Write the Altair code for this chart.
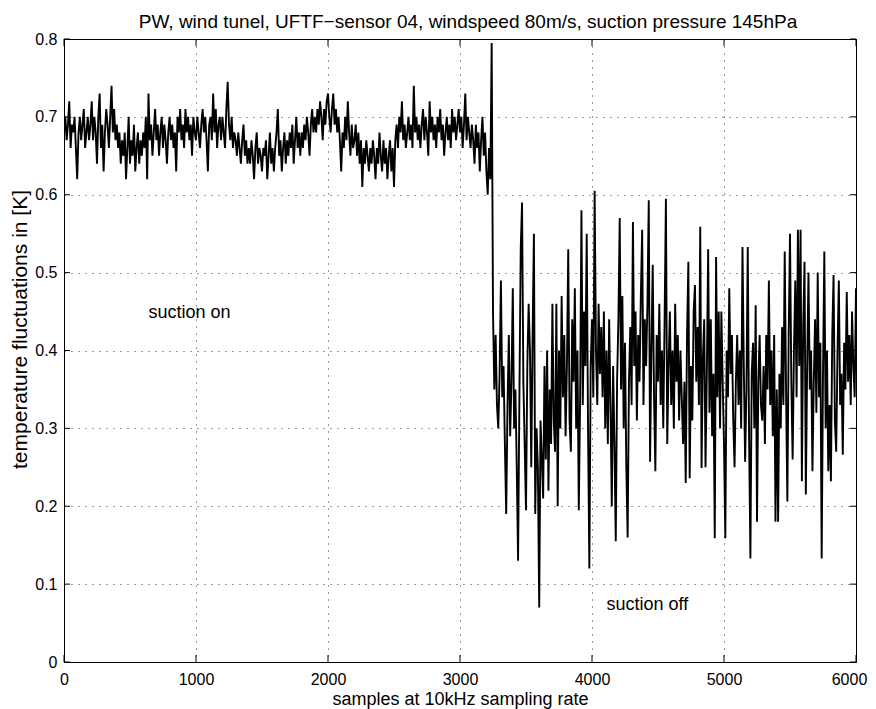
import altair as alt
import pandas as pd

# ---------------- data ----------------
STEP = 10  # samples between consecutive readings

# samples 0 .. 3230 (suction on)
suction_on = [
    0.68, 0.70, 0.67, 0.69, 0.72, 0.66, 0.69, 0.68, 0.70, 0.66,
    0.62, 0.68, 0.70, 0.67, 0.69, 0.71, 0.66, 0.68, 0.70, 0.67,
    0.69, 0.72, 0.67, 0.70, 0.68, 0.64, 0.70, 0.73, 0.66, 0.69,
    0.63, 0.68, 0.71, 0.69, 0.66, 0.70, 0.74, 0.68, 0.71, 0.67,
    0.69, 0.66, 0.68, 0.64, 0.67, 0.65, 0.68, 0.62, 0.66, 0.70,
    0.64, 0.67, 0.65, 0.69, 0.63, 0.66, 0.68, 0.64, 0.67, 0.65,
    0.68, 0.66, 0.70, 0.62, 0.73, 0.67, 0.69, 0.65, 0.68, 0.71,
    0.67, 0.69, 0.65, 0.68, 0.70, 0.66, 0.69, 0.67, 0.64, 0.68,
    0.70, 0.67, 0.69, 0.66, 0.68, 0.63, 0.70, 0.68, 0.71, 0.67,
    0.69, 0.66, 0.71, 0.68, 0.70, 0.67, 0.69, 0.65, 0.70, 0.68,
    0.67, 0.70, 0.68, 0.66, 0.69, 0.71, 0.68, 0.70, 0.67, 0.63,
    0.69, 0.70, 0.67, 0.73, 0.68, 0.71, 0.66, 0.69, 0.70, 0.67,
    0.70, 0.68, 0.66, 0.71, 0.745, 0.69, 0.67, 0.70, 0.66, 0.68,
    0.67, 0.65, 0.68, 0.66, 0.64, 0.67, 0.69, 0.65, 0.67, 0.64,
    0.66, 0.64, 0.67, 0.65, 0.62, 0.66, 0.68, 0.64, 0.66, 0.65,
    0.63, 0.66, 0.65, 0.67, 0.62, 0.65, 0.68, 0.64, 0.66, 0.63,
    0.66, 0.68, 0.71, 0.65, 0.67, 0.63, 0.66, 0.68, 0.64, 0.67,
    0.65, 0.68, 0.66, 0.69, 0.64, 0.67, 0.70, 0.66, 0.68, 0.65,
    0.68, 0.66, 0.69, 0.67, 0.70, 0.68, 0.65, 0.69, 0.71, 0.68,
    0.70, 0.68, 0.71, 0.69, 0.72, 0.70, 0.67, 0.71, 0.69, 0.72,
    0.73, 0.70, 0.68, 0.71, 0.73, 0.69, 0.71, 0.68, 0.70, 0.67,
    0.63, 0.68, 0.66, 0.70, 0.67, 0.72, 0.68, 0.65, 0.69, 0.66,
    0.67, 0.69, 0.65, 0.68, 0.64, 0.67, 0.61, 0.66, 0.64, 0.67,
    0.65, 0.63, 0.66, 0.64, 0.67, 0.65, 0.62, 0.66, 0.64, 0.68,
    0.65, 0.63, 0.67, 0.64, 0.66, 0.62, 0.65, 0.67, 0.63, 0.66,
    0.61, 0.67, 0.69, 0.66, 0.70, 0.68, 0.72, 0.67, 0.69, 0.66,
    0.68, 0.70, 0.67, 0.69, 0.66, 0.74, 0.68, 0.70, 0.67, 0.69,
    0.66, 0.69, 0.71, 0.67, 0.70, 0.68, 0.65, 0.72, 0.68, 0.70,
    0.67, 0.69, 0.66, 0.70, 0.68, 0.71, 0.67, 0.69, 0.65, 0.68,
    0.70, 0.67, 0.69, 0.66, 0.71, 0.68, 0.70, 0.67, 0.69, 0.71,
    0.68, 0.70, 0.66, 0.69, 0.73, 0.67, 0.70, 0.68, 0.66, 0.69,
    0.67, 0.64, 0.69, 0.66, 0.68, 0.63, 0.67, 0.70, 0.65, 0.68,
    0.63, 0.60, 0.66, 0.62,
]

# samples 3240 .. 6000 (suction off)
suction_off = [
    0.795, 0.45, 0.35, 0.42, 0.33, 0.30,
    0.37, 0.49, 0.34, 0.38, 0.28, 0.19, 0.33, 0.42, 0.29, 0.36,
    0.48, 0.30, 0.35, 0.25, 0.13, 0.34, 0.53, 0.59, 0.36, 0.28,
    0.195, 0.38, 0.46, 0.40, 0.25, 0.42, 0.55, 0.19, 0.30, 0.25,
    0.07, 0.31, 0.26, 0.21, 0.38, 0.26, 0.40, 0.22, 0.35, 0.28,
    0.46, 0.31, 0.27, 0.46, 0.20, 0.40, 0.30, 0.47, 0.34, 0.42,
    0.29, 0.38, 0.53, 0.31, 0.27, 0.44, 0.36, 0.48, 0.30, 0.40,
    0.195, 0.34, 0.58, 0.33, 0.45, 0.38, 0.55, 0.30, 0.12, 0.38,
    0.44, 0.34, 0.605, 0.40, 0.33, 0.46, 0.37, 0.43, 0.34, 0.45,
    0.30, 0.40, 0.28, 0.44, 0.33, 0.20, 0.38, 0.28, 0.155, 0.36,
    0.44, 0.57, 0.35, 0.47, 0.30, 0.41, 0.25, 0.16, 0.36, 0.43,
    0.33, 0.565, 0.38, 0.45, 0.31, 0.42, 0.36, 0.47, 0.555, 0.33,
    0.44, 0.38, 0.46, 0.593, 0.257, 0.40, 0.51, 0.34, 0.245, 0.42,
    0.36, 0.46, 0.33, 0.40, 0.30, 0.44, 0.595, 0.28, 0.38, 0.45,
    0.33, 0.40, 0.30, 0.46, 0.36, 0.42, 0.31, 0.40, 0.34, 0.28,
    0.36, 0.23, 0.42, 0.514, 0.236, 0.38, 0.31, 0.45, 0.484, 0.36,
    0.43, 0.33, 0.559, 0.249, 0.39, 0.44, 0.25, 0.37, 0.53, 0.32,
    0.44, 0.29, 0.37, 0.159, 0.52, 0.34, 0.45, 0.30, 0.45, 0.36,
    0.28, 0.159, 0.40, 0.34, 0.48, 0.37, 0.42, 0.31, 0.25, 0.36,
    0.42, 0.33, 0.40, 0.30, 0.533, 0.38, 0.257, 0.35, 0.533, 0.29,
    0.133, 0.37, 0.41, 0.30, 0.458, 0.18, 0.36, 0.42, 0.33, 0.31,
    0.38, 0.28, 0.42, 0.35, 0.49, 0.33, 0.40, 0.29, 0.42, 0.18,
    0.35, 0.18, 0.37, 0.30, 0.43, 0.33, 0.527, 0.35, 0.206, 0.42,
    0.55, 0.36, 0.26, 0.40, 0.49, 0.34, 0.555, 0.38, 0.555, 0.232,
    0.43, 0.514, 0.215, 0.38, 0.50, 0.35, 0.40, 0.245, 0.36, 0.44,
    0.32, 0.50, 0.34, 0.41, 0.133, 0.37, 0.527, 0.30, 0.40, 0.245,
    0.33, 0.232, 0.42, 0.497, 0.31, 0.27, 0.40, 0.49, 0.33, 0.37,
    0.266, 0.41, 0.35, 0.475, 0.36, 0.42, 0.33, 0.45, 0.38, 0.34,
    0.48,
]

x_ticks = [0, 1000, 2000, 3000, 4000, 5000, 6000]
y_ticks = [0, 0.1, 0.2, 0.3, 0.4, 0.5, 0.6, 0.7, 0.8]

note_text = ["suction on", "suction off"]
note_x = [640, 4110]
note_y = [0.448, 0.073]

TITLE = "PW, wind tunel, UFTF\u2212sensor 04, windspeed 80m/s, suction pressure 145hPa"
X_TITLE = "samples at 10kHz sampling rate"
Y_TITLE = "temperature fluctuations in [K]"

# ---------------- build ----------------
values = suction_on + suction_off
df = pd.DataFrame({"sample": [i * STEP for i in range(len(values))], "temp": values})
xt_df = pd.DataFrame({"sample": x_ticks})
yt_df = pd.DataFrame({"temp": y_ticks})
notes_df = pd.DataFrame({"label": note_text, "sample": note_x, "temp": note_y})

W, H = 792, 623
FONT = "Liberation Sans"
xs = alt.Scale(domain=[0, 6000], nice=False, zero=False)
ys = alt.Scale(domain=[0, 0.8], nice=False, zero=False)

X_AXIS = alt.Axis(values=x_ticks, format="d", title=X_TITLE, labelFlush=False,
                  labelOffset=alt.condition("datum.value == 6000", alt.value(-7), alt.value(0)),
                  labelPadding=9, titlePadding=3, titleFontSize=18, labelFontSize=16,
                  grid=True)
Y_AXIS = alt.Axis(values=y_ticks, labelFlush=False,
                  labelExpr="datum.value == 0 ? '0' : format(datum.value, '.1f')",
                  title=Y_TITLE, labelPadding=7, titlePadding=4, titleY=290,
                  titleFontSize=21, labelFontSize=16, grid=True)

line = alt.Chart(df).mark_line(color="black", strokeWidth=1.9, clip=True).encode(
    x=alt.X("sample:Q", scale=xs, axis=X_AXIS),
    y=alt.Y("temp:Q", scale=ys, axis=Y_AXIS),
)

tick_bottom = alt.Chart(xt_df).mark_rule(color="black", strokeWidth=1).encode(
    x=alt.X("sample:Q", scale=xs, axis=X_AXIS), y=alt.value(H), y2=alt.value(H - 7))
tick_top = alt.Chart(xt_df).mark_rule(color="black", strokeWidth=1).encode(
    x=alt.X("sample:Q", scale=xs, axis=X_AXIS), y=alt.value(0), y2=alt.value(7))
tick_left = alt.Chart(yt_df).mark_rule(color="black", strokeWidth=1).encode(
    y=alt.Y("temp:Q", scale=ys, axis=Y_AXIS), x=alt.value(0), x2=alt.value(6))
tick_right = alt.Chart(yt_df).mark_rule(color="black", strokeWidth=1).encode(
    y=alt.Y("temp:Q", scale=ys, axis=Y_AXIS), x=alt.value(W), x2=alt.value(W - 6))

notes = alt.Chart(notes_df).mark_text(align="left", baseline="middle", font=FONT,
                                      fontSize=18, color="black").encode(
    x=alt.X("sample:Q", scale=xs, axis=X_AXIS),
    y=alt.Y("temp:Q", scale=ys, axis=Y_AXIS),
    text="label:N",
)

chart = alt.layer(line, tick_bottom, tick_top, tick_left, tick_right, notes).properties(
    width=W, height=H,
    title=alt.TitleParams(TITLE, font=FONT, fontSize=19, fontWeight="normal",
                          color="black", anchor="middle", offset=-1, dx=8),
    autosize=alt.AutoSizeParams(type="none"),
    padding={"left": 56, "top": 31, "right": 12, "bottom": 47},
    background="white",
).configure_view(
    stroke="black", strokeWidth=1
).configure_axis(
    gridColor="black", gridDash=[1, 6], gridOpacity=0.8, gridWidth=1,
    domain=False, ticks=False, tickSize=0,
    labelFont=FONT, titleFont=FONT, labelColor="black", titleColor="black",
    titleFontWeight="normal",
)

chart.save("out.html", embed_options={"renderer": "svg", "actions": False})
